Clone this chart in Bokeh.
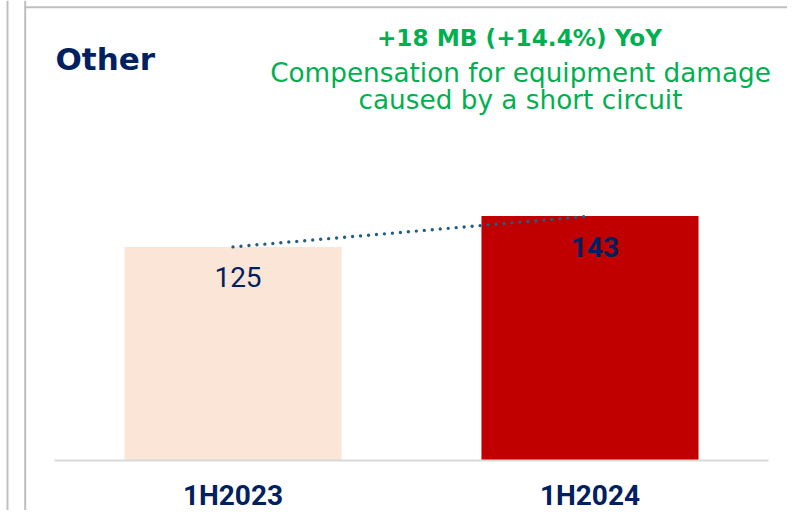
from bokeh.plotting import figure
from bokeh.models import Range1d, LinearAxis, FixedTicker, Label, Span, ColumnDataSource
from bokeh.core.properties import value, field
from bokeh.embed import file_html
from bokeh.resources import INLINE

# ---- data ----
categories = ["1H2023", "1H2024"]
values = [125, 143]
value_labels = ["125", "143"]
title_text = "Other"
headline = "+18 MB (+14.4%) YoY"
note_lines = ["Compensation for equipment damage", "caused by a short circuit"]

# ---- styles ----
bar_colors = ["#FBE5D6", "#C00000"]
label_styles = ["normal", "bold"]
NAVY = "#002060"
GREEN = "#00B050"
BORDER = "#BFBFBF"

W, H = 787, 510
X0_PX, DX_PX = 232.5, 357.0        # canvas x of first category centre, spacing
Y0_PX, PX_PER_UNIT = 460.0, 1.709  # canvas y of zero, pixels per unit

xs = list(range(len(categories)))
x_range = Range1d(-X0_PX / DX_PX, (W - X0_PX) / DX_PX)
y_range = Range1d(-(H - Y0_PX) / PX_PER_UNIT, Y0_PX / PX_PER_UNIT)

p = figure(width=W, height=H, x_range=x_range, y_range=y_range,
           output_backend="svg", toolbar_location=None, tools="",
           x_axis_location=None, y_axis_location=None, min_border=0)
p.outline_line_color = None
p.background_fill_color = "white"
p.border_fill_color = "white"
p.grid.visible = False
p.extra_x_ranges = {"px": Range1d(0, W)}
p.extra_y_ranges = {"px": Range1d(H, 0)}

# panel borders
for bx in (7.0, 24.7):
    p.add_layout(Span(location=(bx - X0_PX) / DX_PX, dimension="height",
                      line_color=BORDER, line_width=2))
p.segment(x0=24, y0=6.7, x1=W, y1=6.7, x_range_name="px", y_range_name="px",
          line_color=BORDER, line_width=2)

src = ColumnDataSource(dict(x=xs, top=values, color=bar_colors,
                            label=value_labels, style=label_styles))

p.vbar(x="x", top="top", bottom=0, width=0.608, fill_color="color",
       line_color=None, source=src)
p.segment(x0=-0.5, y0=0, x1=len(categories) - 0.5, y1=0,
          line_color="#D9D9D9", line_width=2)
p.line(x="x", y="top", source=src, line_color="#215E80", line_width=3.4,
       line_dash="0 8", line_cap="round")
p.text(x="x", y="top", text="label", source=src,
       text_font=value("Roboto"), text_font_style=field("style"),
       text_font_size="28px", text_color=NAVY, text_align="center",
       text_baseline="alphabetic", x_offset=5, y_offset=30.5)

xaxis = LinearAxis(ticker=FixedTicker(ticks=xs),
                   major_label_overrides={i: c for i, c in zip(xs, categories)},
                   fixed_location=0)
xaxis.axis_line_color = None
xaxis.major_tick_line_color = None
xaxis.minor_tick_line_color = None
xaxis.major_label_text_font = "Roboto"
xaxis.major_label_text_font_style = "bold"
xaxis.major_label_text_font_size = "28px"
xaxis.major_label_text_color = NAVY
xaxis.major_label_standoff = 12
p.add_layout(xaxis, "below")

p.add_layout(Label(x=55, y=58.6, x_range_name="px", y_range_name="px",
                   text=title_text, text_font="DejaVu Sans",
                   text_font_style="bold", text_font_size="31px",
                   text_color=NAVY, text_baseline="alphabetic"))
p.add_layout(Label(x=519, y=36.7, x_range_name="px", y_range_name="px",
                   text=headline, text_font="DejaVu Sans",
                   text_font_style="bold", text_font_size="23.2px",
                   text_color=GREEN, text_align="center",
                   text_baseline="alphabetic"))
for i, line in enumerate(note_lines):
    p.add_layout(Label(x=520, y=72.3 + 27.3 * i, x_range_name="px",
                       y_range_name="px", text=line, text_font="DejaVu Sans",
                       text_font_size="26.3px", text_color=GREEN,
                       text_align="center", text_baseline="alphabetic"))

open("out.html", "w").write(file_html(p, INLINE))
